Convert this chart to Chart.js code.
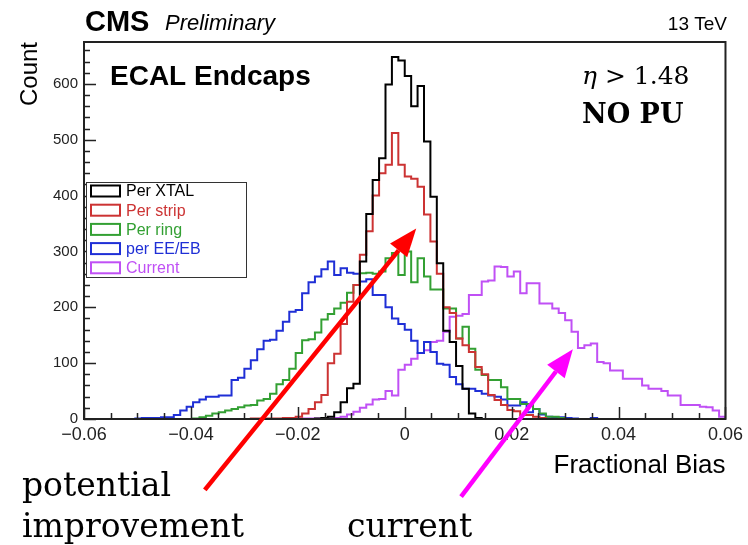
<!DOCTYPE html>
<html><head><meta charset="utf-8">
<script src="https://cdn.jsdelivr.net/npm/chart.js@4.4.1/dist/chart.umd.min.js"></script>
<style>html,body{margin:0;padding:0;background:#fff;}canvas{display:block;}</style>
</head><body>
<canvas id="c" width="748" height="545"></canvas>
<script>
// ---- data ----
const binLow = -0.06, binWidth = 0.0012, nBins = 100;
const seriesNames = ['Per XTAL', 'Per strip', 'Per ring', 'per EE/EB', 'Current'];
const seriesColors = ['#000000', '#cc3333', '#33a033', '#1f2fd6', '#c050f5'];
const xTicks = [-0.06, -0.04, -0.02, 0, 0.02, 0.04, 0.06];
const yTicks = [0, 100, 200, 300, 400, 500, 600];

const perXtal = [
 0,0,0,0,0,0,0,0,0,0,
 0,0,0,0,0,0,0,0,0,0,
 0,0,0,0,0,0,0,0,0,0,
 0,0,0,0,0,0,1,2,4,12,
 30,55,63,282,367,428,467,599,648,642,
 614,560,596,497,398,279,158,138,95,54,
 10,2,0,0,0,0,0,0,0,0,
 0,0,0,0,0,0,0,0,0,0,
 0,0,0,0,0,0,0,0,0,0,
 0,0,0,0,0,0,0,0,0,0];
const perStrip = [
 0,0,0,0,0,0,0,0,0,0,
 0,0,0,0,0,0,0,0,0,0,
 0,0,0,0,0,0,1,1,1,1,
 1,2,2,4,10,18,30,43,100,117,
 170,210,240,294,336,400,440,455,512,455,
 434,430,416,366,318,260,200,190,144,132,
 120,93,80,43,34,25,16,14,7,7,
 4,2,0,0,0,0,0,0,0,0,
 0,0,0,0,0,0,0,0,0,0,
 0,0,0,0,0,0,0,0,0,0];
const perRing = [
 0,0,0,0,0,0,0,0,0,0,
 0,0,0,0,0,0,0,1,3,6,
 10,12,15,18,21,24,25,33,36,45,
 62,70,90,118,141,143,155,178,188,198,
 208,226,240,261,262,260,264,288,297,258,
 300,245,288,255,232,232,198,198,144,165,
 126,88,79,70,70,57,36,36,27,27,
 18,10,4,4,2,0,0,0,0,0,
 0,0,0,0,0,0,0,0,0,0,
 0,0,0,0,0,0,0,0,0,0];
const perEEEB = [
 0,0,0,0,0,0,0,0,1,2,
 2,2,3,3,7,15,22,30,35,40,
 40,42,42,70,74,90,105,125,140,142,
 158,174,192,195,225,245,255,268,282,258,
 270,262,260,246,250,222,222,200,180,170,
 160,140,118,138,120,99,97,75,62,54,
 54,50,45,42,40,35,24,24,30,12,
 18,8,4,3,3,2,1,0,0,2,
 0,0,0,0,0,0,0,0,0,0,
 0,0,0,0,0,0,0,0,0,0];
const current = [
 0,0,0,0,0,0,0,0,0,0,
 0,0,0,0,0,0,0,0,0,0,
 0,0,0,0,0,0,0,0,0,0,
 0,0,0,1,1,1,1,1,1,2,
 4,8,13,20,26,35,36,50,42,88,
 97,108,118,123,138,140,156,183,185,188,
 222,222,246,248,273,272,255,264,225,243,
 243,207,207,198,190,177,156,127,132,135,
 102,100,87,87,72,72,72,60,54,54,
 50,42,42,25,25,25,22,21,15,4];

const seriesValues = [perXtal, perStrip, perRing, perEEEB, current];

// ---- build histogram outlines (points at bin low edges, step-before) ----
function histPoints(vals) {
  const pts = [{x: binLow, y: 0}];
  for (let i = 0; i < nBins; i++) pts.push({x: binLow + i * binWidth, y: vals[i]});
  pts.push({x: binLow + nBins * binWidth, y: vals[nBins - 1]});
  pts.push({x: binLow + nBins * binWidth, y: 0});
  return pts;
}

const SANS = '"Liberation Sans", Arial, Helvetica, sans-serif';
const SERIF = '"DejaVu Serif", serif';

function fmtX(v) {
  if (Math.abs(v) < 1e-9) return '0';
  return v.toFixed(2).replace('-', '\u2212');
}

const decorPlugin = {
  id: 'decor',
  afterDatasetsDraw(chart) {
    const {ctx, chartArea: a, scales: {x, y}} = chart;
    ctx.save();
    ctx.strokeStyle = '#222';
    ctx.lineWidth = 2;
    ctx.strokeRect(a.left, a.top, a.right - a.left, a.bottom - a.top);
    ctx.lineWidth = 1.5;
    ctx.beginPath();
    for (let i = 0; i <= 24; i++) {
      const v = binLow + i * 0.005;
      const px = Math.round(x.getPixelForValue(v)) + 0.5;
      const len = (i % 4 === 0) ? 12 : 6;
      ctx.moveTo(px, a.bottom);
      ctx.lineTo(px, a.bottom - len);
    }
    for (let i = 0; i * 20 <= y.max; i++) {
      const py = Math.round(y.getPixelForValue(i * 20)) + 0.5;
      const len = (i % 5 === 0) ? 12 : 6;
      ctx.moveTo(a.left, py);
      ctx.lineTo(a.left + len, py);
    }
    ctx.stroke();

    // legend
    const lx = 86, ly = 182, lw = 160, lh = 95;
    ctx.fillStyle = '#fff';
    ctx.fillRect(lx, ly, lw, lh);
    ctx.lineWidth = 1;
    ctx.strokeStyle = '#333';
    ctx.strokeRect(lx + 0.5, ly + 0.5, lw, lh);
    ctx.font = '16px ' + SANS;
    ctx.textBaseline = 'middle';
    ctx.textAlign = 'left';
    chart.data.datasets.forEach((ds, i) => {
      const cy = ly + 9 + i * 19.2;
      ctx.strokeStyle = ds.borderColor;
      ctx.lineWidth = 2;
      ctx.strokeRect(lx + 5, cy - 5.5, 29, 11);
      ctx.fillStyle = ds.borderColor;
      ctx.fillText(ds.label, lx + 40, cy + 1);
    });
    ctx.restore();
  },
  afterDraw(chart) {
    const {ctx, scales: {x, y}} = chart;
    ctx.save();
    ctx.textBaseline = 'alphabetic';
    ctx.textAlign = 'left';
    ctx.fillStyle = '#000';
    ctx.font = 'bold 29px ' + SANS;
    ctx.fillText('CMS', 85, 31);
    ctx.font = 'italic 22px ' + SANS;
    ctx.fillText('Preliminary', 165, 30);
    ctx.textAlign = 'right';
    ctx.font = '19px ' + SANS;
    ctx.fillText('13 TeV', 727, 30);
    ctx.textAlign = 'left';
    ctx.font = 'bold 28px ' + SANS;
    ctx.fillText('ECAL Endcaps', 110, 85);
    ctx.font = 'italic 25px ' + SERIF;
    ctx.fillText('\u03b7', 582, 84);
    const w = ctx.measureText('\u03b7').width;
    ctx.font = '25px ' + SERIF;
    ctx.fillText(' > 1.48', 582 + w, 84);
    ctx.font = 'bold 27px ' + SERIF;
    ctx.fillText('NO PU', 582, 123);
    ctx.font = '33px ' + SERIF;
    ctx.fillText('potential', 22, 496);
    ctx.fillText('improvement', 22, 537);
    ctx.fillText('current', 347, 537);

    // arrows (anchored in data coordinates)
    function arrow(x0, y0, x1, y1, color) {
      const p0 = {x: x.getPixelForValue(x0), y: y.getPixelForValue(y0)};
      const p1 = {x: x.getPixelForValue(x1), y: y.getPixelForValue(y1)};
      const ang = Math.atan2(p1.y - p0.y, p1.x - p0.x);
      const hl = 28, hw = 11;
      const bx = p1.x - hl * Math.cos(ang), by = p1.y - hl * Math.sin(ang);
      ctx.strokeStyle = color; ctx.fillStyle = color;
      ctx.lineWidth = 4.5; ctx.lineCap = 'butt';
      ctx.beginPath(); ctx.moveTo(p0.x, p0.y); ctx.lineTo(bx, by); ctx.stroke();
      ctx.beginPath();
      ctx.moveTo(p1.x, p1.y);
      ctx.lineTo(bx + hw * Math.sin(ang), by - hw * Math.cos(ang));
      ctx.lineTo(bx - hw * Math.sin(ang), by + hw * Math.cos(ang));
      ctx.closePath(); ctx.fill();
    }
    arrow(-0.0374, -127, 0.00215, 341, '#ff0000');
    arrow(0.01054, -139, 0.03145, 125, '#ff00ff');
    ctx.restore();
  }
};

new Chart(document.getElementById('c'), {
  type: 'line',
  data: {
    datasets: seriesValues.map((vals, i) => ({
      label: seriesNames[i],
      data: histPoints(vals),
      borderColor: seriesColors[i],
      backgroundColor: seriesColors[i],
      borderWidth: 2,
      stepped: 'before',
      pointRadius: 0,
      fill: false
    }))
  },
  options: {
    responsive: false,
    animation: false,
    devicePixelRatio: 1,
    layout: {padding: {left: 0, right: 21, top: 42, bottom: 60}},
    plugins: {legend: {display: false}, tooltip: {enabled: false}},
    scales: {
      x: {
        type: 'linear', min: -0.06, max: 0.06,
        afterBuildTicks: s => { s.ticks = xTicks.map(v => ({value: v})); },
        afterFit: s => { s.height = 66; },
        grid: {display: false, drawTicks: false},
        border: {display: false},
        ticks: {padding: 5, color: '#222', autoSkip: false, maxRotation: 0,
                font: {family: SANS, size: 18}, callback: v => fmtX(v)},
        title: {display: true, text: 'Fractional Bias', align: 'end', color: '#000',
                font: {family: SANS, size: 26}, padding: {top: 0, bottom: 4}}
      },
      y: {
        type: 'linear', min: 0, max: 675,
        afterBuildTicks: s => { s.ticks = yTicks.map(v => ({value: v})); },
        afterFit: s => { s.width = 84; },
        grid: {display: false, drawTicks: false},
        border: {display: false},
        ticks: {padding: 6, color: '#222', autoSkip: false,
                font: {family: SANS, size: 15}},
        title: {display: true, text: 'Count', align: 'end', color: '#000',
                font: {family: SANS, size: 24}, padding: {top: 16, bottom: 0}}
      }
    }
  },
  plugins: [decorPlugin]
});
</script>
</body></html>
